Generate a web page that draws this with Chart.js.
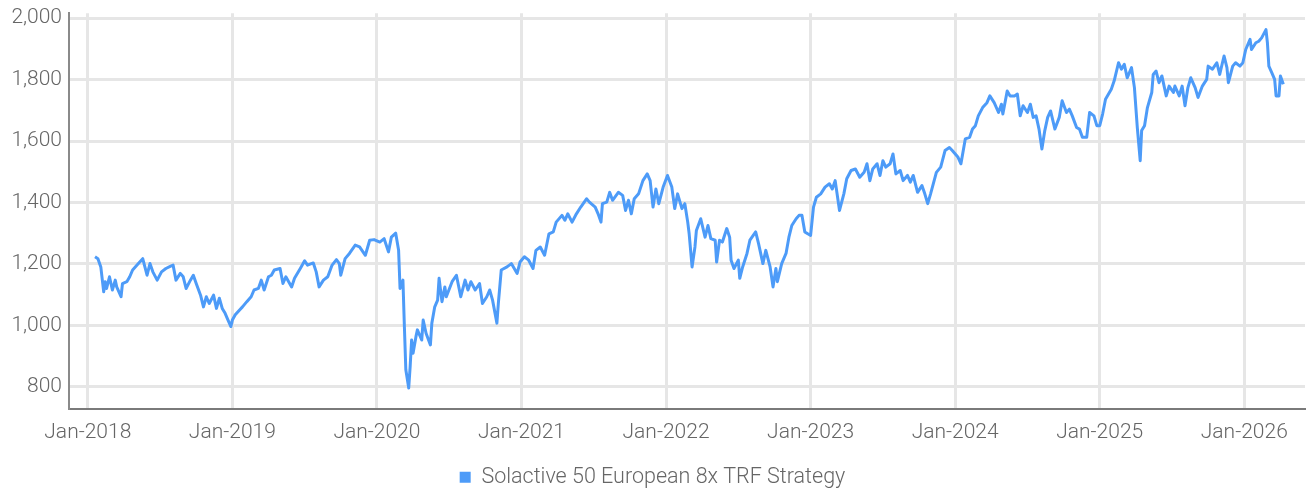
<!DOCTYPE html>
<html>
<head>
<meta charset="utf-8">
<script src="https://cdn.jsdelivr.net/npm/chart.js@4.4.1/dist/chart.umd.min.js"></script>
<style>
  html, body { margin: 0; padding: 0; background: #fff; }
  #wrap { width: 1306px; height: 493px; position: relative; }
</style>
</head>
<body>
<div id="wrap"><canvas id="indexChart"></canvas></div>
<script>
// ===== data =====
const seriesName = 'Solactive 50 European 8x TRF Strategy';

// dates as decimal years
const dates = [
  2018.05, 2018.07, 2018.09, 2018.11, 2018.12, 2018.13, 2018.15, 2018.17, 2018.19, 2018.20,
  2018.23, 2018.24, 2018.27, 2018.29, 2018.31, 2018.35, 2018.38, 2018.41, 2018.43, 2018.45,
  2018.48, 2018.51, 2018.54, 2018.57, 2018.59, 2018.61, 2018.64, 2018.66, 2018.68, 2018.71,
  2018.73, 2018.75, 2018.78, 2018.80, 2018.82, 2018.84, 2018.87, 2018.89, 2018.91, 2018.93,
  2018.95, 2018.97, 2018.99, 2019.00, 2019.02, 2019.05, 2019.07, 2019.10, 2019.13, 2019.15,
  2019.18, 2019.20, 2019.22, 2019.25, 2019.27, 2019.29, 2019.33, 2019.35, 2019.37, 2019.41,
  2019.43, 2019.47, 2019.50, 2019.52, 2019.56, 2019.58, 2019.60, 2019.63, 2019.66, 2019.69,
  2019.72, 2019.74, 2019.75, 2019.78, 2019.81, 2019.85, 2019.88, 2019.92, 2019.95, 2019.98,
  2020.02, 2020.05, 2020.08, 2020.10, 2020.13, 2020.15, 2020.16, 2020.18, 2020.19, 2020.20,
  2020.22, 2020.23, 2020.24, 2020.25, 2020.27, 2020.28, 2020.31, 2020.32, 2020.34, 2020.37,
  2020.38, 2020.40, 2020.42, 2020.43, 2020.45, 2020.47, 2020.48, 2020.52, 2020.55, 2020.58,
  2020.61, 2020.63, 2020.65, 2020.68, 2020.71, 2020.73, 2020.76, 2020.78, 2020.80, 2020.83,
  2020.84, 2020.86, 2020.90, 2020.93, 2020.97, 2020.99, 2021.02, 2021.05, 2021.08, 2021.10,
  2021.13, 2021.16, 2021.19, 2021.22, 2021.24, 2021.28, 2021.30, 2021.32, 2021.35, 2021.38,
  2021.41, 2021.45, 2021.47, 2021.51, 2021.53, 2021.55, 2021.56, 2021.59, 2021.61, 2021.63,
  2021.67, 2021.70, 2021.72, 2021.74, 2021.76, 2021.78, 2021.81, 2021.84, 2021.87, 2021.89,
  2021.91, 2021.93, 2021.95, 2021.98, 2022.01, 2022.04, 2022.06, 2022.08, 2022.11, 2022.13,
  2022.15, 2022.16, 2022.18, 2022.20, 2022.21, 2022.24, 2022.27, 2022.29, 2022.31, 2022.34,
  2022.35, 2022.37, 2022.39, 2022.42, 2022.44, 2022.45, 2022.47, 2022.50, 2022.51, 2022.53,
  2022.56, 2022.58, 2022.62, 2022.64, 2022.67, 2022.69, 2022.72, 2022.74, 2022.76, 2022.77,
  2022.80, 2022.83, 2022.85, 2022.87, 2022.90, 2022.92, 2022.94, 2022.96, 2022.98, 2023.00,
  2023.02, 2023.04, 2023.07, 2023.10, 2023.13, 2023.15, 2023.17, 2023.20, 2023.23, 2023.25,
  2023.28, 2023.31, 2023.34, 2023.37, 2023.39, 2023.41, 2023.43, 2023.46, 2023.48, 2023.50,
  2023.52, 2023.55, 2023.57, 2023.59, 2023.62, 2023.64, 2023.67, 2023.69, 2023.71, 2023.74,
  2023.77, 2023.79, 2023.81, 2023.83, 2023.87, 2023.90, 2023.93, 2023.96, 2023.98, 2024.02,
  2024.04, 2024.07, 2024.10, 2024.12, 2024.14, 2024.16, 2024.19, 2024.22, 2024.24, 2024.27,
  2024.30, 2024.32, 2024.33, 2024.36, 2024.38, 2024.41, 2024.43, 2024.45, 2024.47, 2024.50,
  2024.52, 2024.54, 2024.56, 2024.58, 2024.60, 2024.62, 2024.64, 2024.66, 2024.69, 2024.72,
  2024.74, 2024.77, 2024.79, 2024.81, 2024.84, 2024.86, 2024.88, 2024.91, 2024.93, 2024.96,
  2024.98, 2025.00, 2025.02, 2025.04, 2025.08, 2025.10, 2025.13, 2025.15, 2025.17, 2025.19,
  2025.22, 2025.24, 2025.26, 2025.28, 2025.29, 2025.31, 2025.33, 2025.36, 2025.37, 2025.39,
  2025.41, 2025.43, 2025.46, 2025.48, 2025.51, 2025.52, 2025.55, 2025.57, 2025.59, 2025.61,
  2025.63, 2025.66, 2025.68, 2025.71, 2025.74, 2025.75, 2025.78, 2025.81, 2025.83, 2025.86,
  2025.88, 2025.89, 2025.92, 2025.94, 2025.97, 2025.99, 2026.01, 2026.04, 2026.05, 2026.08,
  2026.10, 2026.12, 2026.15, 2026.16, 2026.17, 2026.19, 2026.21, 2026.22, 2026.24, 2026.25,
  2026.27
];

const values = [
  1223, 1217, 1190, 1109, 1142, 1120, 1158, 1115, 1147, 1125,
  1093, 1136, 1142, 1158, 1180, 1201, 1217, 1163, 1201, 1174,
  1147, 1174, 1185, 1192, 1196, 1147, 1169, 1158, 1120, 1147,
  1163, 1136, 1098, 1060, 1093, 1071, 1098, 1055, 1088, 1055,
  1039, 1017, 996, 1017, 1034, 1050, 1060, 1077, 1093, 1115,
  1120, 1147, 1115, 1158, 1163, 1180, 1185, 1136, 1158, 1125,
  1153, 1185, 1210, 1196, 1203, 1174, 1125, 1147, 1158, 1196,
  1214, 1201, 1163, 1217, 1234, 1261, 1255, 1228, 1277, 1279,
  1271, 1282, 1239, 1287, 1300, 1244, 1120, 1147, 996, 855,
  796, 866, 952, 909, 963, 985, 952, 1017, 974, 936,
  1007, 1060, 1082, 1153, 1077, 1125, 1093, 1142, 1163, 1093,
  1147, 1115, 1142, 1115, 1136, 1071, 1093, 1115, 1082, 1007,
  1071, 1180, 1190, 1201, 1169, 1206, 1223, 1212, 1185, 1244,
  1255, 1228, 1298, 1304, 1336, 1358, 1342, 1363, 1336, 1363,
  1385, 1412, 1401, 1385, 1363, 1336, 1396, 1401, 1433, 1407,
  1433, 1423, 1374, 1407, 1363, 1412, 1428, 1471, 1493, 1471,
  1385, 1444, 1396, 1450, 1488, 1450, 1380, 1428, 1380, 1396,
  1336, 1298, 1190, 1255, 1309, 1347, 1287, 1325, 1282, 1277,
  1206, 1277, 1271, 1315, 1287, 1212, 1185, 1212, 1153, 1190,
  1234, 1277, 1304, 1266, 1201, 1244, 1190, 1125, 1185, 1142,
  1201, 1234, 1287, 1325, 1347, 1358, 1358, 1304, 1298, 1293,
  1385, 1417, 1428, 1450, 1461, 1444, 1471, 1374, 1428, 1477,
  1504, 1509, 1482, 1498, 1526, 1471, 1509, 1526, 1488, 1536,
  1515, 1526, 1558, 1493, 1504, 1471, 1488, 1466, 1488, 1433,
  1455, 1428, 1396, 1428, 1498, 1515, 1569, 1579, 1569, 1547,
  1526, 1607, 1612, 1639, 1650, 1682, 1709, 1725, 1747, 1725,
  1693, 1720, 1688, 1763, 1747, 1747, 1753, 1682, 1715, 1693,
  1720, 1677, 1682, 1639, 1574, 1634, 1677, 1698, 1639, 1677,
  1731, 1693, 1704, 1682, 1644, 1639, 1612, 1612, 1693, 1682,
  1650, 1650, 1688, 1736, 1769, 1796, 1855, 1834, 1850, 1806,
  1839, 1774, 1644, 1536, 1634, 1650, 1709, 1758, 1817, 1828,
  1790, 1812, 1747, 1779, 1758, 1779, 1747, 1779, 1715, 1774,
  1806, 1774, 1742, 1779, 1801, 1844, 1834, 1855, 1817, 1877,
  1839, 1790, 1844, 1855, 1844, 1855, 1898, 1931, 1898, 1920,
  1925, 1936, 1963, 1920, 1844, 1823, 1801, 1747, 1747, 1812,
  1785
];

const xTickYears = [2018, 2019, 2020, 2021, 2022, 2023, 2024, 2025, 2026];
const yTicks = [800, 1000, 1200, 1400, 1600, 1800, 2000];

// ===== styling =====
const lineColor = '#4d9bf8';
const gridColor = '#e6e6e6';
const textColor = '#666666';
const xTickFont = { family: 'Roboto', size: 21, weight: '300', lineHeight: 1 };
const yTickFont = { family: 'Roboto', size: 21, weight: '300', lineHeight: 0.6 };
const legendFont = { family: 'Roboto', size: 21.5, weight: '300', lineHeight: 1 };

const points = dates.map((d, i) => ({ x: d, y: values[i] }));

const ctx = document.getElementById('indexChart').getContext('2d');
new Chart(ctx, {
    type: 'line',
    data: {
        datasets: [{
            label: seriesName,
            data: points,
            borderColor: lineColor,
            backgroundColor: lineColor,
            borderWidth: 3,
            borderJoinStyle: 'round',
            pointRadius: 0,
            tension: 0,
            fill: false
        }]
    },
    options: {
        responsive: true,
        maintainAspectRatio: false,
        animation: false,
        devicePixelRatio: 1,
        layout: { padding: { top: 8, right: 1, left: 0, bottom: -5 } },
        plugins: {
            tooltip: { enabled: false },
            legend: {
                display: true,
                position: 'bottom',
                labels: {
                    color: textColor,
                    font: legendFont,
                    boxWidth: 11,
                    boxHeight: 11,
                    padding: 8,
                    generateLabels: function(chart) {
                        return [{
                            text: seriesName,
                            fillStyle: lineColor,
                            strokeStyle: lineColor,
                            lineWidth: 0,
                            fontColor: textColor,
                            datasetIndex: 0
                        }];
                    }
                }
            }
        },
        scales: {
            x: {
                type: 'linear',
                min: 2017.87,
                max: 2026.42,
                afterBuildTicks: function(scale) {
                    scale.ticks = xTickYears.map(v => ({ value: v }));
                },
                afterFit: function(scale) {
                    scale.height = 50;
                },
                ticks: {
                    autoSkip: false,
                    maxRotation: 0,
                    padding: 14,
                    color: textColor,
                    font: xTickFont,
                    callback: function(value) {
                        return 'Jan-' + value;
                    }
                },
                grid: { color: gridColor, lineWidth: 3, drawTicks: false },
                border: { color: '#7a7a7a', width: 2 }
            },
            y: {
                min: 729,
                max: 2016,
                afterBuildTicks: function(scale) {
                    scale.ticks = yTicks.map(v => ({ value: v }));
                },
                afterFit: function(scale) {
                    scale.width = 69;
                },
                ticks: {
                    padding: 7,
                    color: textColor,
                    font: yTickFont,
                    callback: function(value) {
                        return value.toLocaleString('en-US');
                    }
                },
                grid: { color: gridColor, lineWidth: 3, drawTicks: false },
                border: { color: '#8a8a8a', width: 2 }
            }
        }
    }
});
</script>
</body>
</html>
